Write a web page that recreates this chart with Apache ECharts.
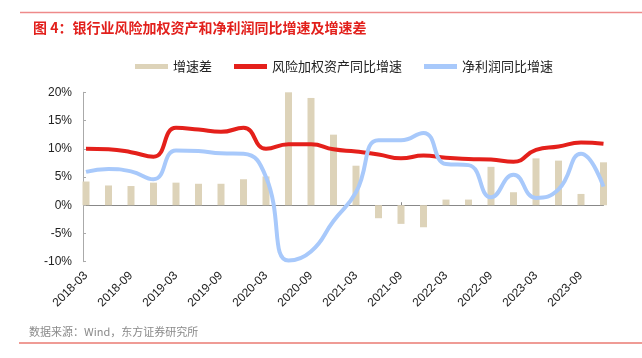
<!DOCTYPE html>
<html>
<head>
<meta charset="utf-8">
<script src="https://cdn.jsdelivr.net/npm/echarts@6/dist/echarts.min.js"></script>
<style>
html,body{margin:0;padding:0;background:#fff;}
#chart{width:642px;height:358px;}
</style>
</head>
<body>
<div id="chart"></div>
<script>
const categories = ['2018-03','2018-06','2018-09','2018-12','2019-03','2019-06','2019-09','2019-12',
  '2020-03','2020-06','2020-09','2020-12','2021-03','2021-06','2021-09','2021-12',
  '2022-03','2022-06','2022-09','2022-12','2023-03','2023-06','2023-09','2023-12'];
const spreadValues = [4.2, 3.5, 3.4, 4.0, 4.0, 3.8, 3.8, 4.6, 5.1, 20.1, 19.0, 12.5, 7.0, -2.3, -3.3, -3.9, 1.0, 1.0, 6.8, 2.3, 8.3, 7.9, 2.0, 7.6];
const rwaValues = [10.0, 9.9, 9.4, 8.6, 13.7, 13.4, 13.0, 13.7, 10.0, 10.8, 10.8, 9.9, 9.5, 9.0, 8.3, 8.8, 8.4, 8.2, 8.1, 7.7, 9.8, 10.4, 11.1, 10.9];
const profitValues = [5.9, 6.4, 6.0, 4.6, 9.7, 9.6, 9.2, 9.1, 5.0, -9.8, -8.2, -2.8, 2.3, 11.5, 11.5, 12.8, 7.3, 7.1, 1.4, 5.4, 1.3, 2.8, 9.1, 3.3];
const seriesNames = ['增速差', '风险加权资产同比增速', '净利润同比增速'];
const titleText = '图 4：银行业风险加权资产和净利润同比增速及增速差';
const sourceText = '数据来源：Wind，东方证券研究所';

const FONT = "'Liberation Sans', 'Noto Sans CJK SC', sans-serif";
const chart = echarts.init(document.getElementById('chart'));
chart.setOption({
  animation: false,
  backgroundColor: '#fff',
  textStyle: { fontFamily: FONT },
  title: {
    text: titleText,
    left: 28, top: 16,
    textStyle: { fontSize: 14, fontWeight: 'bold', color: '#e2201c', fontFamily: "'Noto Sans CJK SC', sans-serif" }
  },
  legend: {
    left: 130, top: 55,
    itemWidth: 33, itemHeight: 5, itemGap: 22,
    textStyle: { fontSize: 13, color: '#222', fontFamily: "'Noto Sans CJK SC', sans-serif" },
    data: [
      { name: seriesNames[0], icon: 'rect' },
      { name: seriesNames[1], icon: 'rect' },
      { name: seriesNames[2], icon: 'rect' }
    ]
  },
  grid: { left: 86, right: 38.5, top: 92.3, bottom: 358 - 261.7 },
  xAxis: [
    {
      type: 'category', data: categories, boundaryGap: false,
      position: 'bottom',
      axisLine: { show: false, onZero: false },
      axisTick: { show: false },
      axisLabel: { interval: 1, rotate: 45, fontSize: 12, color: '#222', margin: 12 }
    },
    {
      type: 'category', data: categories, boundaryGap: false,
      position: 'bottom',
      axisLine: { show: true, onZero: true, lineStyle: { color: '#888', width: 1 } },
      axisTick: { show: true, inside: true, interval: 1, length: 3, lineStyle: { color: '#888' } },
      axisLabel: { show: false }
    }
  ],
  yAxis: {
    type: 'value', min: -10, max: 20, interval: 5, offset: 3,
    axisLine: { show: true, lineStyle: { color: '#aaa', width: 1 } },
    axisTick: { show: true, inside: true, length: 3, lineStyle: { color: '#aaa' } },
    splitLine: { show: false },
    axisLabel: { formatter: '{value}%', fontSize: 12, color: '#222', margin: 11 }
  },
  series: [
    {
      name: seriesNames[0], type: 'bar', xAxisIndex: 0, data: spreadValues,
      barWidth: 7,
      itemStyle: { color: '#ddd3b9' }
    },
    {
      name: seriesNames[1], type: 'line', xAxisIndex: 0, data: rwaValues,
      smooth: 0.5, symbol: 'none',
      lineStyle: { color: '#e4201b', width: 4 },
      itemStyle: { color: '#e4201b' }
    },
    {
      name: seriesNames[2], type: 'line', xAxisIndex: 0, data: profitValues,
      smooth: 0.5, symbol: 'none',
      lineStyle: { color: '#a8c9fb', width: 4 },
      itemStyle: { color: '#a8c9fb' }
    }
  ],
  graphic: [
    { type: 'line', shape: { x1: 20, y1: 12.5, x2: 642, y2: 12.5 }, style: { stroke: '#ee8a8a', lineWidth: 1.5 } },
    { type: 'line', shape: { x1: 19, y1: 343, x2: 642, y2: 343 }, style: { stroke: '#ea7a72', lineWidth: 1.5 } },
    { type: 'text', left: 29, top: 326, style: { text: sourceText, fontSize: 11, fill: '#8a8a8a', fontFamily: "'Noto Sans CJK SC', sans-serif" } }
  ]
});
</script>
</body>
</html>
